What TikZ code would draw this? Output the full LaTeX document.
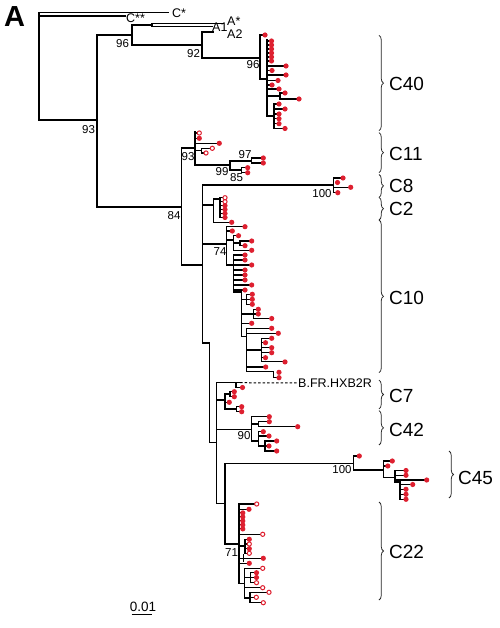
\documentclass[tikz,border=0pt]{standalone}
\usepackage{fontspec}
\setmainfont{Liberation Sans}
\usetikzlibrary{decorations.pathreplacing}
\definecolor{dotred}{RGB}{222,32,48}
\tikzset{
  br/.style={draw=black,line width=1.05pt,line cap=rect},
  dsh/.style={draw=black,line width=1pt,dashed,dash pattern=on 2.5pt off 2pt},
  boot/.style={inner sep=0pt,font=\fontsize{11.5}{13}\selectfont},
  tiplbl/.style={inner sep=0pt,font=\fontsize{12.5}{14}\selectfont},
  cladelbl/.style={inner sep=0pt,anchor=west,font=\fontsize{19}{22}\selectfont},
  brc/.style={draw=black!85,line width=0.75pt,decorate,decoration={brace,amplitude=4.5pt}},
}
\newcommand\lfd[3]{\draw[br] (#1,#3) -- (#2-2.4,#3); \fill[dotred] (#2,#3) circle[radius=2.6pt];}
\newcommand\lod[3]{\draw[br] (#1,#3) -- (#2-2.4,#3); \draw[dotred,line width=1pt] (#2,#3) circle[radius=2.1pt];}
\newcommand\fdt[2]{\fill[dotred] (#1,#2) circle[radius=2.6pt];}
\begin{document}
\begin{tikzpicture}[x=1pt,y=-1pt]
\useasboundingbox (0,0) rectangle (499,628);
\fill[white] (0,0) rectangle (499,628);
\node[inner sep=0pt,font=\fontsize{29}{30}\selectfont\bfseries] (panel) at (14.5,17) {A};
% ---- root and outgroups
\draw[br] (168,12.7) -- (39,12.7) -- (39,120) -- (97,120);
\draw[br] (39,16) -- (125,16);
\node[tiplbl,anchor=west] (cs) at (172,13) {C*};
\node[tiplbl,anchor=west] (css) at (126,18) {C**};
\draw[br] (132,35) -- (97,35) -- (97,207) -- (181.7,207);
\draw[br] (132,25) -- (132,45);
\draw[br] (132,25) -- (152,25);
\draw[br] (152,23.3) -- (152,26.7);
\draw[br] (152,23.3) -- (223,23.3);
\draw[br] (152,26.7) -- (212,26.7);
\node[tiplbl,anchor=west] (astar) at (227,21) {A*};
\node[tiplbl,anchor=west] (a1) at (212,27.5) {A1};
\node[tiplbl,anchor=west] (a2) at (227,34) {A2};
\draw[br] (132,45) -- (202,45);
\draw[br] (202,32) -- (202,58);
\draw[br] (202,32) -- (213,32);
\draw[br] (202,58) -- (260,58);
\node[boot] (b93) at (88.5,129.5) {93};
\node[boot] (b96a) at (122.5,43.5) {96};
\node[boot] (b92) at (193.5,53.5) {92};
\node[boot] (b96b) at (253,65) {96};
\node[boot] (b84) at (174,216) {84};
% ---- C40
\draw[br] (260,35) -- (260,79) -- (267,79);
\draw[br] (267,40) -- (267,116) -- (274,116);
\draw[br] (274,104) -- (274,128.5);
\lfd{260}{265}{35}
\lfd{267}{271.5}{41}
\lfd{267}{271.5}{45}
\lfd{267}{271.5}{49}
\lfd{267}{271.5}{53}
\lfd{267}{271.5}{57}
\lfd{267}{271.5}{61}
\lfd{267}{286}{66}
\lfd{267}{272}{70.5}
\lfd{267}{286}{75}
\lfd{267}{278}{80.5}
\lfd{267}{272}{85}
\lfd{267}{279}{89}
\draw[br] (267,96) -- (280,96);
\draw[br] (280,93) -- (280,99);
\lfd{280}{285}{93}
\lfd{280}{299}{99}
\lfd{274}{279}{104}
\lfd{274}{285}{109}
\lfd{274}{279}{114}
\lfd{274}{279}{118.7}
\lfd{274}{279}{123.7}
\lfd{274}{285}{128.5}
% ---- C11
\draw[br] (195,148) -- (181.7,148) -- (181.7,265) -- (202.3,265);
\draw[br] (195,132) -- (195,165);
\lod{195}{199.3}{133}
\lfd{195}{199.3}{138.3}
\lfd{195}{219.3}{143.3}
\draw[br] (195,150.5) -- (201.7,150.5);
\draw[br] (201.7,148.3) -- (201.7,153);
\lod{201.7}{212.3}{148.3}
\lod{201.7}{206}{153}
\draw[br] (195,165) -- (230,165);
\draw[br] (230,161) -- (230,170);
\draw[br] (230,161) -- (251.7,161);
\draw[br] (251.7,158) -- (251.7,163);
\lfd{251.7}{263.3}{158}
\lfd{251.7}{263.3}{163}
\draw[br] (230,170) -- (241.7,170);
\draw[br] (241.7,167.7) -- (241.7,172.7);
\lfd{241.7}{247.7}{167.7}
\lfd{241.7}{247.7}{172.7}
\node[boot] (b93b) at (188,157) {93};
\node[boot] (b97) at (245,155) {97};
\node[boot] (b99) at (222,172) {99};
\node[boot] (b85) at (236.5,178) {85};
% ---- C8
\draw[br] (202.3,185) -- (202.3,343) -- (209.3,343);
\draw[br] (202.3,185) -- (333.3,185);
\draw[br] (333.3,178) -- (333.3,192.7);
\lfd{333.3}{343}{178}
\fdt{337.5}{182.5}
\lfd{333.3}{350.7}{187.3}
\lfd{333.3}{337.8}{192.7}
\node[boot] (b100a) at (322,193.5) {100};
% ---- C2
\draw[br] (202.3,205) -- (213.3,205);
\draw[br] (220,197.7) -- (220,199) -- (213.3,199) -- (213.3,222.3);
\draw[br] (220,197.7) -- (220,217.5);
\lod{220}{225}{197.7}
\lod{220}{225}{201.7}
\lfd{220}{225}{205.7}
\lfd{220}{225}{209.6}
\lfd{220}{225}{213.5}
\lfd{220}{225}{217.5}
\lfd{213.3}{231.7}{222.3}
% ---- C10
\draw[br] (202.3,244) -- (226.7,244);
\draw[br] (226.7,226.7) -- (226.7,265) -- (233.3,265);
\lfd{226.7}{245}{226.7}
\lfd{226.7}{232.3}{231}
\draw[br] (226.7,240) -- (233.3,240);
\draw[br] (233.3,235.7) -- (233.3,250.3);
\lfd{233.3}{238.5}{235.7}
\draw[br] (233.3,243) -- (240,243);
\draw[br] (240,241) -- (240,245.7);
\lfd{240}{251.7}{241}
\lfd{240}{245}{245.7}
\lfd{233.3}{251.7}{250.3}
\draw[br] (233.3,255) -- (233.3,292) -- (241.7,292);
\lfd{233.3}{245}{255}
\lfd{233.3}{245}{260}
\lfd{233.3}{251.7}{265}
\lfd{233.3}{245}{270}
\lfd{233.3}{245}{275}
\lfd{233.3}{245}{280}
\lfd{233.3}{251.7}{285}
\lfd{233.3}{245}{290}
\draw[br] (241.7,292) -- (241.7,336.7) -- (246.7,336.7);
\draw[br] (241.7,299.3) -- (246.7,299.3);
\draw[br] (246.7,294.3) -- (246.7,304.3);
\lfd{246.7}{252.3}{294.3}
\lfd{246.7}{252.3}{299.3}
\lfd{246.7}{252.3}{304.3}
\draw[br] (241.7,314) -- (253.3,314);
\draw[br] (253.3,309.3) -- (253.3,318.5);
\lfd{253.3}{258.3}{309.3}
\lfd{253.3}{258.3}{314}
\lfd{253.3}{271.7}{318.5}
\lfd{241.7}{251.7}{323.3}
\draw[br] (246.7,328.3) -- (246.7,371.7);
\lfd{246.7}{271.7}{328.3}
\lfd{246.7}{278.3}{333.3}
\draw[br] (246.7,350) -- (261.7,350);
\draw[br] (261.7,338.3) -- (261.7,361.9);
\lfd{261.7}{271.7}{338.3}
\lfd{261.7}{265.5}{342.7}
\lfd{261.7}{271.7}{347.7}
\lfd{261.7}{271.7}{352.7}
\lfd{261.7}{265.5}{357.7}
\lfd{261.7}{285}{361.9}
\lfd{246.7}{265.7}{367}
\draw[br] (246.7,371.7) -- (273.3,371.7);
\draw[br] (273.3,371.7) -- (273.3,377.7);
\fdt{279}{372.3}
\lfd{273.3}{279}{377.7}
\node[boot] (b74) at (220,252) {74};
% ---- C7 and reference
\draw[br] (209.3,343) -- (209.3,442.7) -- (216.7,442.7);
\draw[br] (216.7,382.7) -- (216.7,503.3) -- (225,503.3);
\draw[br] (216.7,382.7) -- (240,382.7);
\node[anchor=west,inner sep=0pt,font=\fontsize{12.5}{14}\selectfont] (hxb) at (298,383) {B.FR.HXB2R};
\draw[dsh] (240,382.7) -- (hxb.west);
\draw[br] (236,382.7) -- (236,387.5);
\lfd{236}{242.5}{387.5}
\draw[br] (216.7,400) -- (225,400);
\draw[br] (225,394) -- (225,409);
\draw[br] (225,394) -- (230,394);
\draw[br] (230,391.7) -- (230,396.7);
\lfd{230}{234.3}{391.7}
\lfd{230}{234.3}{396.7}
\lfd{225}{229.3}{402.3}
\draw[br] (225,409) -- (236.7,409);
\draw[br] (236.7,406.7) -- (236.7,411.7);
\lfd{236.7}{241.7}{406.7}
\lfd{236.7}{241.7}{411.7}
% ---- C42
\draw[br] (216.7,429.3) -- (251.7,429.3);
\draw[br] (251.7,416.7) -- (251.7,441) -- (258.3,441);
\lfd{251.7}{269.3}{416.7}
\draw[br] (251.7,424) -- (258.3,424);
\draw[br] (258.3,421.7) -- (258.3,426.7);
\lfd{258.3}{269.3}{421.7}
\lfd{258.3}{297.7}{426.7}
\draw[br] (258.3,431.7) -- (258.3,446) -- (265,446);
\lfd{258.3}{263.3}{431.7}
\lfd{258.3}{269}{436}
\draw[br] (265,441) -- (265,451);
\lfd{265}{276.7}{441}
\lfd{265}{269}{446}
\lfd{265}{276.7}{451}
\node[boot] (b90) at (244,436) {90};
% ---- C45
\draw[br] (225,463.3) -- (353.3,463.3);
\draw[br] (353.3,456) -- (353.3,470);
\lfd{353.3}{359.3}{456}
\draw[br] (353.3,470) -- (383.3,470);
\draw[br] (383.3,461) -- (383.3,477.3) -- (395,477.3);
\lfd{383.3}{392.3}{461}
\lfd{383.3}{387.8}{466}
\draw[br] (395,470.5) -- (395,482) -- (400,482);
\lfd{395}{406}{470.5}
\lfd{395}{406}{475.3}
\lfd{395}{426.7}{480}
\draw[br] (400,482) -- (400,499.3);
\lfd{400}{412.7}{484.5}
\lfd{400}{406}{489.3}
\lfd{400}{406}{494.3}
\lfd{400}{406}{499.3}
\node[boot] (b100b) at (342,470) {100};
% ---- C22
\draw[br] (225,463.3) -- (225,544) -- (239,544);
\draw[br] (239,503.3) -- (239,583.3) -- (244.3,583.3);
\lod{239}{256.7}{504}
\lfd{239}{249}{509.3}
\lfd{239}{242.8}{512.9}
\lfd{239}{242.8}{516.9}
\lfd{239}{242.8}{520.9}
\lfd{239}{242.8}{524.9}
\lfd{239}{242.8}{528.9}
\lod{239}{262.7}{534.3}
\draw[br] (239,546) -- (245,546);
\draw[br] (245,539.3) -- (245,553.3);
\lfd{245}{249.3}{539.3}
\lod{245}{249.3}{544}
\lfd{245}{249.3}{548.7}
\lod{245}{249.3}{553.3}
\lfd{239}{263.3}{558.3}
\draw[br] (243.5,555) -- (243.5,561.7);
\lfd{239}{249.3}{563.3}
\draw[br] (244.3,568.3) -- (244.3,598) -- (250,598);
\lod{244.3}{262.7}{568.3}
\draw[br] (244.3,577.5) -- (250.5,577.5);
\draw[br] (250.5,572.7) -- (250.5,582.7);
\lfd{250.5}{256.5}{572.7}
\lfd{250.5}{256.5}{577.5}
\lod{250.5}{256.5}{582.7}
\lod{244.3}{262.7}{587.7}
\draw[br] (250,592.3) -- (250,602.7);
\lod{250}{269}{592.3}
\lod{250}{256.3}{597.3}
\lod{250}{263.3}{602.7}
\node[boot] (b71) at (231.5,552.5) {71};
% ---- scale bar
\node[inner sep=0pt,font=\fontsize{13.5}{15}\selectfont] (scl) at (143,606.5) {0.01};
\draw[line width=0.9pt] (131.5,614.5) -- (151.5,614.5);
% ---- clade braces
\draw[brc] (379,35.4) -- (379,130.7);
\node[cladelbl] (c40) at (389,84) {C40};
\draw[brc] (379,132.6) -- (379,172.6);
\node[cladelbl] (c11) at (389,153.5) {C11};
\draw[brc] (379,174.5) -- (379,197.4);
\node[cladelbl] (c8) at (389,186) {C8};
\draw[brc] (379,197.4) -- (379,220);
\node[cladelbl] (c2) at (389,208.5) {C2};
\draw[brc] (379,220) -- (379,372.6);
\node[cladelbl] (c10) at (389,298) {C10};
\draw[brc] (379,380.2) -- (379,408.8);
\node[cladelbl] (c7) at (389,396) {C7};
\draw[brc] (379,410.7) -- (379,445);
\node[cladelbl] (c42) at (389,430) {C42};
\draw[brc] (449,451) -- (449,498);
\node[cladelbl] (c45) at (458,478) {C45};
\draw[brc] (379,502) -- (379,600);
\node[cladelbl] (c22) at (389,552) {C22};
\end{tikzpicture}
\end{document}
